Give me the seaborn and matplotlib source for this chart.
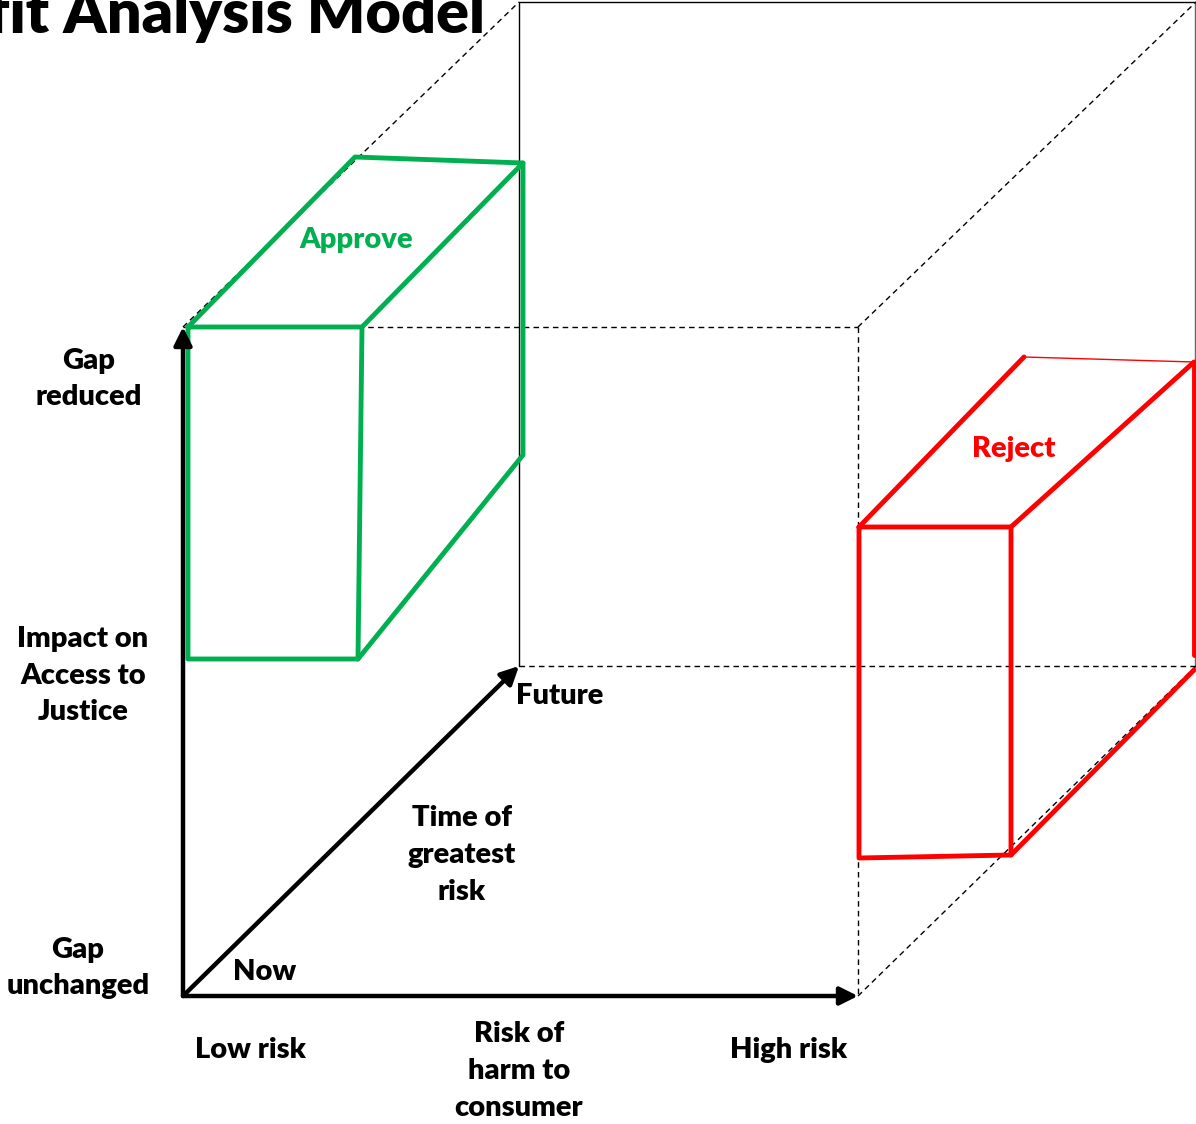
import matplotlib
matplotlib.use("Agg")
import matplotlib.pyplot as plt
import seaborn as sns

# page is laid out in pixel units (x right, y down), 1196 x 1124
W, H = 1196, 1124

# outer cube: front face and back face
front_x = [183, 858]
front_y = [327, 996]
back_x = [519, 1196]
back_y = [2, 666]

# green "Approve" box edges
approve_edges = {
    "front": ([188, 362, 358, 188, 188], [327, 327, 659, 659, 327]),
    "top": ([188, 355, 523, 362], [327, 157, 163, 327]),
    "side": ([523, 523, 358], [163, 455, 659]),
}
# red "Reject" box edges
reject_edges = {
    "front": ([859, 1011, 1011, 859, 859], [527, 527, 855, 858, 527]),
    "top_l": ([859, 1024], [527, 357]),
    "top_r": ([1194, 1011], [362, 527]),
    "side": ([1194, 1194], [362, 655]),
    "base": ([1194, 1011], [670, 855]),
}
reject_back_edge = ([1024, 1194], [357, 362])

labels = {
    "Gap\nreduced": (89, 379),
    "Impact on\nAccess to\nJustice": (83, 676),
    "Gap\nunchanged": (78, 968),
    "Time of\ngreatest\nrisk": (462, 855),
    "Risk of\nharm to\nconsumer": (519, 1071),
    "Low risk": (250, 1050),
    "High risk": (789, 1050),
    "Now": (265, 972),
    "Future": (560, 696),
}
title = "fit Analysis Model"
approve_label = ("Approve", 356, 240)
reject_label = ("Reject", 1014, 449)

GREEN = "#00B050"
RED = "#FF0000"

sns.set_theme(style="white")
plt.rcParams["font.family"] = ["Lato", "DejaVu Sans"]
plt.rcParams["text.color"] = "black"

fig = plt.figure(figsize=(11.96, 11.24), dpi=100)
ax = fig.add_axes([0, 0, 1, 1])
ax.set_xlim(0, W)
ax.set_ylim(H, 0)
ax.axis("off")


def seg(xs, ys, **kw):
    sns.lineplot(x=xs, y=ys, sort=False, estimator=None, ax=ax, **kw)


dash = dict(color="black", lw=1.0, linestyle=(0, (4, 3)))
thin = dict(color="black", lw=1.0)

# back face (solid left / top, dashed bottom)
seg([back_x[0], back_x[0]], back_y, **thin)
seg(back_x, [back_y[0], back_y[0]], **thin)
seg([back_x[1] - 1, back_x[1] - 1], back_y, color="#666666", lw=1.0)
seg(back_x, [back_y[1], back_y[1]], **dash)

# front face dashed edges
seg(front_x, [front_y[0], front_y[0]], **dash)
seg([front_x[1], front_x[1]], front_y, **dash)

# depth edges
seg([front_x[0], back_x[0]], [front_y[0], back_y[0]], **dash)
seg([front_x[1], back_x[1]], [front_y[0], back_y[0]], **dash)
seg([front_x[1], back_x[1]], [front_y[1], back_y[1]], **dash)

# thick axis arrows
arrow = dict(arrowstyle="-|>,head_length=0.9,head_width=0.45", color="black",
             lw=3.2, shrinkA=0, shrinkB=0)
origin = (front_x[0], front_y[1])
ax.annotate("", xy=(front_x[0], front_y[0]), xytext=origin, arrowprops=arrow)
ax.annotate("", xy=(front_x[1], front_y[1]), xytext=origin, arrowprops=arrow)
ax.annotate("", xy=(back_x[0], back_y[1]), xytext=origin, arrowprops=arrow)

# boxes
for xs, ys in approve_edges.values():
    seg(xs, ys, color=GREEN, lw=3.5)
for xs, ys in reject_edges.values():
    seg(xs, ys, color=RED, lw=3.5)
seg(*reject_back_edge, color=RED, lw=1.0)

fs = 21
for txt, (x, y) in labels.items():
    ax.text(x, y, txt, ha="center", va="center", fontsize=fs,
            fontweight="heavy", linespacing=1.5, color="black")
ax.text(approve_label[1], approve_label[2], approve_label[0], color=GREEN,
        ha="center", va="center", fontsize=fs, fontweight="heavy")
ax.text(reject_label[1], reject_label[2], reject_label[0], color=RED,
        ha="center", va="center", fontsize=fs, fontweight="heavy")
ax.text(485, 33, title, ha="right", va="baseline", fontsize=44,
        fontweight="heavy", color="black")

fig.savefig("out.png", dpi=100)
